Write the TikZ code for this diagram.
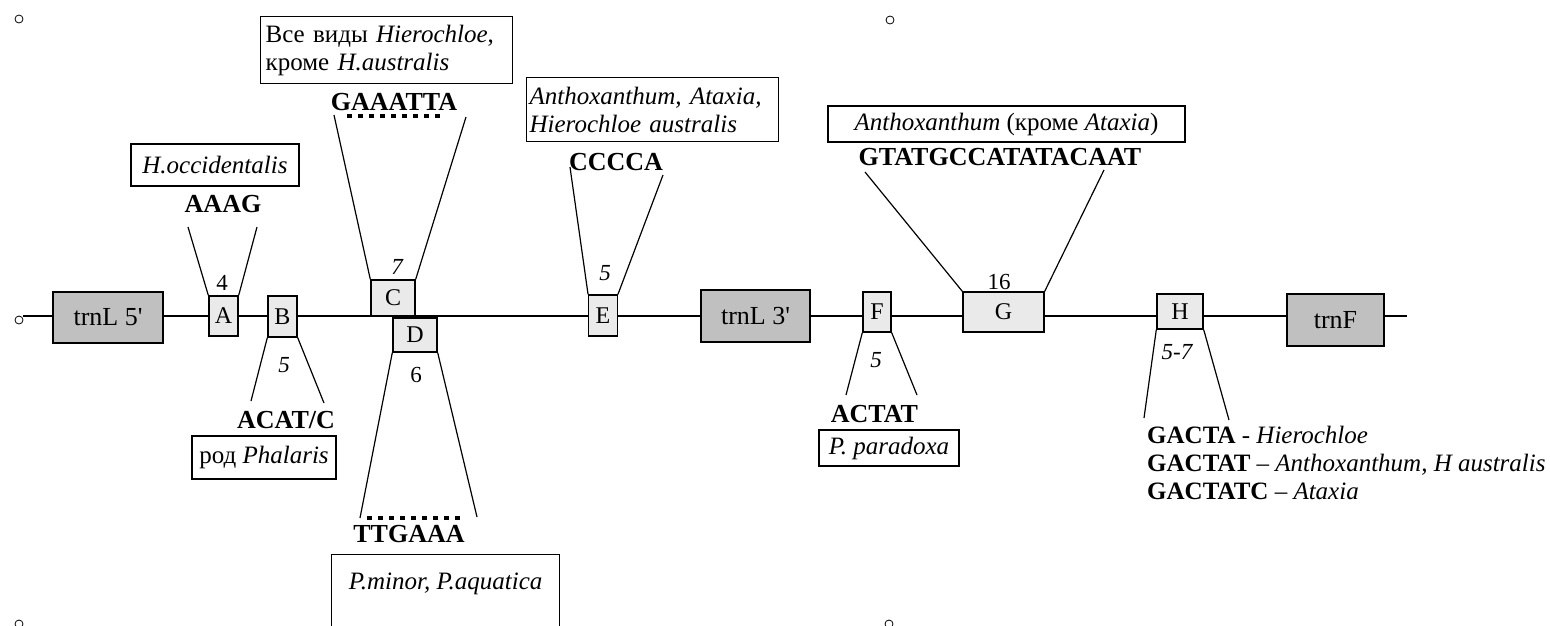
\documentclass[tikz,border=0pt]{standalone}
\usepackage{fontspec}
\setmainfont{Liberation Serif}
\usepackage{tikz}
\usetikzlibrary{positioning,calc}
\definecolor{GeneGray}{RGB}{192,192,192}
\definecolor{IndelGray}{RGB}{234,234,234}
\tikzset{
    genebox/.style={rectangle, draw=black, fill=GeneGray, line width=1.4pt, inner sep=0pt, font=\fontsize{26}{30}\selectfont},
    indelbox/.style={rectangle, draw=black, fill=IndelGray, line width=1.4pt, inner sep=0pt, font=\fontsize{24}{26}\selectfont},
    taxbox/.style={rectangle, draw=black, fill=white, line width=1.2pt, inner sep=3pt, font=\fontsize{25}{28}\selectfont},
    seqtext/.style={inner sep=0pt, font=\bfseries\fontsize{26}{28}\selectfont},
    handle/.style={circle, draw=black, line width=0.8pt, minimum size=8pt, inner sep=0pt}
}

\begin{document}
\begin{tikzpicture}[
                x=1pt, y=-1pt,
                % Style cho so nucleotit
                lentext/.style={inner sep=0pt, font=\fontsize{23}{24}\selectfont},
                lenit/.style={inner sep=0pt, font=\fontsize{23}{24}\selectfont\itshape},
                % Style cho duong noi hinh thang
                trap/.style={draw=black, line width=1.2pt},
                dotline/.style={line width=4pt, dash pattern=on 5pt off 6pt}
            ]
                \useasboundingbox (0,0) rectangle (1550,625);
                \clip (0,0) rectangle (1550,625);

                % --- DIEM DIEU KHIEN ---
                \node[handle] (hdlTL) at (19,19) {};
                \node[handle] (hdlTM) at (890,20) {};
                \node[handle] (hdlL) at (19,320) {};
                \node[handle] (hdlBL) at (19,624) {};
                \node[handle] (hdlBM) at (889,624) {};

                % --- TRUC CHINH ---
                \coordinate (bbS) at (23,316);
                \coordinate (bbE) at (1407,316);
                \draw[line width=1.2pt] (bbS) -- (bbE);

                % --- GEN ---
                \node[genebox, minimum width=110pt, minimum height=51pt] (trnL5) at (108,317.5) {trnL 5\textquotesingle};
                \node[genebox, minimum width=109pt, minimum height=52pt] (trnL3) at (755.5,316) {trnL 3\textquotesingle};
                \node[genebox, minimum width=97pt, minimum height=52pt] (trnF) at (1335.5,320) {trnF};

                % --- INDEL ---
                \node[indelbox, minimum width=29pt, minimum height=40pt] (A) at (223.5,316) {A};
                \node[indelbox, minimum width=29pt, minimum height=41pt] (B) at (282.5,316.5) {B};
                \node[indelbox, minimum width=44pt, minimum height=36pt] (C) at (393,298) {C};
                \node[indelbox, minimum width=44pt, minimum height=34pt] (D) at (415,335) {D};
                \node[indelbox, minimum width=28.5pt, minimum height=41pt] (E) at (603,315.5) {E};
                \node[indelbox, minimum width=28pt, minimum height=40pt] (F) at (877,312) {F};
                \node[indelbox, minimum width=81pt, minimum height=40pt] (G) at (1003.5,312) {G};
                \node[indelbox, minimum width=46pt, minimum height=35pt] (H) at (1180,311.5) {H};

                % --- DO DAI ---
                \node[lentext] (lenA) at (222,283) {4};
                \node[lenit] (lenB) at (284,365) {5};
                \node[lenit] (lenC) at (397,267) {7};
                \node[lentext] (lenD) at (416,375) {6};
                \node[lenit] (lenE) at (605,273) {5};
                \node[lenit] (lenF) at (876,360) {5};
                \node[lentext] (lenG) at (999,282) {16};
                \node[lenit] (lenH) at (1177,352) {5-7};

                % --- TRINH TU ---
                \node[seqtext] (seqA) at (223,204) {AAAG};
                \node[seqtext] (seqB) at (286,420) {ACAT/C};
                \node[seqtext] (seqC) at (394,102) {GAAATTA};
                \node[seqtext] (seqD) at (409,534) {TTGAAA};
                \node[seqtext] (seqE) at (616,162) {CCCCA};
                \node[seqtext] (seqF) at (874.5,414) {ACTAT};
                \node[seqtext] (seqG) at (1000,157) {GTATGCCATATACAAT};
                \node[inner sep=0pt, anchor=west, align=left, font=\fontsize{25}{28}\selectfont] (seqH) at (1147,463)
                    {\textbf{GACTA} - \textit{Hierochloe}\\
                     \textbf{GACTAT} – \textit{Anthoxanthum, H australis}\\
                     \textbf{GACTATC} – \textit{Ataxia}};
                \draw[dotline] (347,116) -- (443,116);
                \draw[dotline] (367,518) -- (462,518);

                % --- NHOM LOAI ---
                \node[taxbox, minimum width=168pt, minimum height=42pt] (taxA) at (215,165) {\textit{H.occidentalis}};
                \node[taxbox, minimum width=144pt, minimum height=43pt] (taxB) at (264,457.5) {род \textit{Phalaris}};
                \node[taxbox, anchor=north west, minimum width=252pt, minimum height=67pt, inner xsep=5pt, text width=242pt, align=left] (taxC) at (260,16)
                    {Все виды \textit{Hierochloe},\\кроме \textit{H.australis}};
                \node[taxbox, anchor=north west, minimum width=228pt, inner ysep=5pt, text height=30pt, text depth=50pt] (taxD) at (331,554)
                    {\textit{P.minor, P.aquatica}};
                \node[taxbox, anchor=north west, minimum width=252pt, minimum height=64pt, inner xsep=3pt, text width=246pt, align=left] (taxE) at (526,77)
                    {\textit{Anthoxanthum, Ataxia,}\\\textit{Hierochloe australis}};
                \node[taxbox, minimum width=140pt, minimum height=36pt] (taxF) at (889,448) {\textit{P. paradoxa}};
                \node[taxbox, minimum width=357pt, minimum height=36pt] (taxG) at (1006.5,124) {\textit{Anthoxanthum} (кроме \textit{Ataxia})};

                % --- HINH THANG ---
                \coordinate (aL) at (188,227);  \coordinate (aR) at (257,227);
                \coordinate (bL) at (251,401);  \coordinate (bR) at (324,403);
                \coordinate (cL) at (334,115);  \coordinate (cR) at (466,117);
                \coordinate (dL) at (360,518);  \coordinate (dR) at (477,517);
                \coordinate (eL) at (570,167);  \coordinate (eR) at (663,175);
                \coordinate (fL) at (846,395);  \coordinate (fR) at (917,395);
                \coordinate (gL) at (865,172);  \coordinate (gR) at (1104,170);
                \coordinate (hL) at (1144,418); \coordinate (hR) at (1229,420);
                \draw[trap] (A.north west) -- (aL);  \draw[trap] (A.north east) -- (aR);
                \draw[trap] (B.south west) -- (bL);  \draw[trap] (B.south east) -- (bR);
                \draw[trap] (C.north west) -- (cL);  \draw[trap] (C.north east) -- (cR);
                \draw[trap] (D.south west) -- (dL);  \draw[trap] (D.south east) -- (dR);
                \draw[trap] (E.north west) -- (eL);  \draw[trap] (E.north east) -- (eR);
                \draw[trap] (F.south west) -- (fL);  \draw[trap] (F.south east) -- (fR);
                \draw[trap] (G.north west) -- (gL);  \draw[trap] (G.north east) -- (gR);
                \draw[trap] (H.south west) -- (hL);  \draw[trap] (H.south east) -- (hR);

            \end{tikzpicture}
\end{document}
